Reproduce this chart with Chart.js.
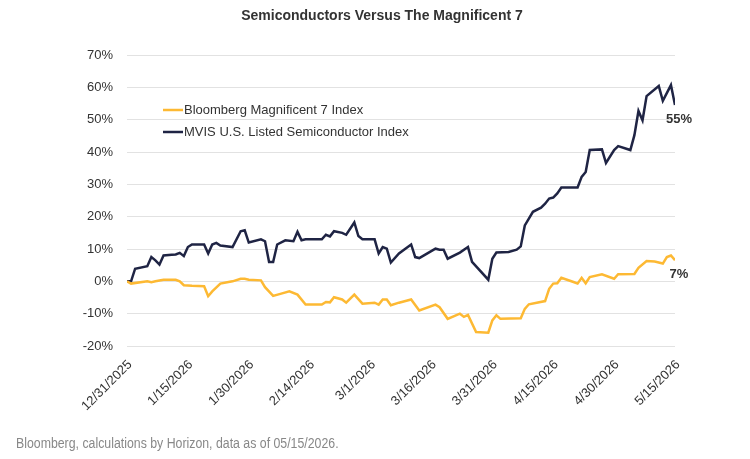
<!DOCTYPE html>
<html>
<head>
<meta charset="utf-8">
<script src="https://cdn.jsdelivr.net/npm/chart.js@4.4.1/dist/chart.umd.min.js"></script>
<style>
  html, body { margin: 0; padding: 0; background: #fff; }
  #wrap { position: relative; width: 750px; height: 459px; }
  canvas { position: absolute; left: 0; top: 0; }
  #title { position: absolute; top: 7px; left: 0; width: 764px; text-align: center;
    font: bold 14px "Liberation Sans", Arial, sans-serif; color: #333; }
  #note { position: absolute; left: 16px; top: 435px; white-space: nowrap;
    font: 14px "Liberation Sans", Arial, sans-serif; color: #888;
    transform: scaleX(0.88); transform-origin: left top; }
</style>
</head>
<body>
<div id="wrap">
  <canvas id="chart" width="750" height="459"></canvas>
  <div id="title">Semiconductors Versus The Magnificent 7</div>
  <div id="note">Bloomberg, calculations by Horizon, data as of 05/15/2026.</div>
</div>
<script>
// x = days since 12/31/2025
const tickLabels = ['12/31/2025','1/15/2026','1/30/2026','2/14/2026','3/1/2026',
  '3/16/2026','3/31/2026','4/15/2026','4/30/2026','5/15/2026'];

const semiLabel = 'MVIS U.S. Listed Semiconductor Index';
const semiDays = [0,1,2,5,6,7,8,9,11,12,13,14,15,16,19,20,21,22,23,26,28,29,30,33,34,35,36,37,39,41,42,43,44,
  48,49,50,51,53,54,56,57,58,61,62,63,64,65,67,70,71,72,76,77,78,79,82,84,85,89,90,91,94,96,97,98,99,100,
  102,103,104,105,106,107,111,112,113,114,117,118,120,121,124,125,126,127,128,131,132,134,135];
const semiValues = [0,0,3.9,4.7,7.5,6.5,5.2,8,8.2,8.3,8.8,7.8,10.6,11.4,11.4,8.6,11.4,11.9,11.1,10.6,15.5,15.8,12,13,12.4,6,6,11.4,12.7,12.4,15.3,12.7,13,
  13,14.4,13.9,15.5,15,14.4,18.2,14,13,13,8.6,10.6,10.1,5.8,8.6,11.4,7.5,7.2,10.1,9.8,9.8,7,8.9,10.6,6,0.5,7,8.9,9.1,9.8,10.8,17.3,19.4,21.5,
  22.8,24,25.6,25.9,27.2,29,29,32.3,33.8,40.6,40.8,36.6,40.6,41.8,40.6,45.2,52.7,49.8,57.3,60.4,55.8,60.7,54.5];

const magLabel = 'Bloomberg Magnificent 7 Index';
const magDays = [0,1,5,6,7,9,12,13,14,16,19,20,21,23,25,26,28,29,30,33,34,36,38,40,42,44,48,49,50,51,53,54,56,58,
  61,62,63,64,65,67,70,72,76,77,79,82,83,84,86,89,90,91,92,97,98,99,103,104,105,106,107,110,111,112,113,114,
  117,120,121,125,126,128,130,132,133,134,135];
const magValues = [0,-0.7,0,-0.3,0,0.5,0.5,0,-1.2,-1.4,-1.5,-4.6,-3.1,-0.7,-0.2,0,0.8,0.8,0.5,0.3,-1.8,-4.5,-3.8,-3.1,-4.1,-7.2,-7.2,-6.4,-6.5,-4.9,-5.6,-6.6,-4.1,-6.9,
  -6.6,-7.2,-5.6,-5.6,-7.4,-6.6,-5.6,-9,-7.2,-8,-11.6,-10,-11,-10.4,-15.7,-15.9,-12.1,-10.5,-11.6,-11.4,-8.5,-7.1,-6.1,-2.3,-0.7,-0.6,1.1,-0.2,-0.7,1.1,-0.6,1.3,
  2.2,0.8,2.2,2.3,4.2,6.3,6.1,5.5,7.5,8,6.5];

const navy = '#1f2444';
const gold = '#fdb933';

const toPoints = (xs, ys) => xs.map((d, i) => ({ x: d, y: ys[i] }));

const overlay = {
  id: 'overlay',
  afterDatasetsDraw(chart) {
    const { ctx, chartArea } = chart;
    ctx.save();
    // legend inside the plot
    const lx = chartArea.left + 36, ly = chartArea.top + 55;
    ctx.font = '13px "Liberation Sans", Arial, sans-serif';
    ctx.textBaseline = 'middle';
    chart.data.datasets.forEach((ds, i) => {
      const y = ly + i * 22;
      ctx.strokeStyle = ds.borderColor;
      ctx.lineWidth = 2.5;
      ctx.beginPath();
      ctx.moveTo(lx, y);
      ctx.lineTo(lx + 20, y);
      ctx.stroke();
      ctx.fillStyle = '#333';
      ctx.textAlign = 'left';
      ctx.fillText(ds.label, lx + 21, y);
    });
    // end labels
    ctx.font = 'bold 13px "Liberation Sans", Arial, sans-serif';
    ctx.textAlign = 'center';
    chart.data.datasets.forEach((ds, i) => {
      const meta = chart.getDatasetMeta(i);
      const p = meta.data[meta.data.length - 1];
      const v = ds.data[ds.data.length - 1].y;
      ctx.fillStyle = '#333';
      ctx.fillText(Math.round(v) + '%', p.x + 4, p.y + 14);
    });
    ctx.restore();
  }
};

new Chart(document.getElementById('chart'), {
  type: 'line',
  data: {
    datasets: [
      { label: magLabel, data: toPoints(magDays, magValues), borderColor: gold, borderWidth: 2.5,
        pointRadius: 0, fill: false, tension: 0 },
      { label: semiLabel, data: toPoints(semiDays, semiValues), borderColor: navy, borderWidth: 2.5,
        pointRadius: 0, fill: false, tension: 0 }
    ]
  },
  options: {
    responsive: false,
    animation: false,
    layout: { padding: { top: 55, right: 75, bottom: 33, left: 0 } },
    plugins: { legend: { display: false }, tooltip: { enabled: false } },
    scales: {
      x: {
        type: 'linear', min: 0, max: 135,
        grid: { display: false },
        border: { display: false },
        ticks: {
          stepSize: 15, autoSkip: false, minRotation: 45, maxRotation: 45, labelOffset: 3,
          color: '#333', font: { size: 13, family: '"Liberation Sans", Arial, sans-serif' },
          callback: v => tickLabels[Math.round(v / 15)]
        },
        afterFit: s => { s.height = 80; }
      },
      y: {
        min: -20, max: 70,
        grid: { color: '#e2e2e2', drawTicks: false },
        border: { display: false },
        ticks: {
          stepSize: 10, padding: 14,
          color: '#333', font: { size: 13, family: '"Liberation Sans", Arial, sans-serif' },
          callback: v => v + '%'
        },
        afterFit: s => { s.width = 127; }
      }
    }
  },
  plugins: [overlay]
});
</script>
</body>
</html>
